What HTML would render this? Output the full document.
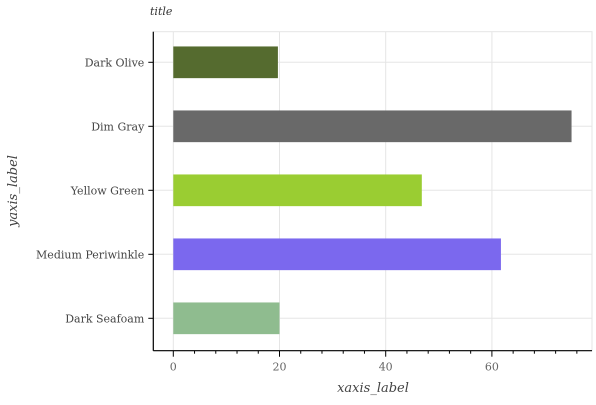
<!DOCTYPE html>
<html><head><meta charset="utf-8"><style>
body{margin:0;background:#fff}
svg text{font-family:"DejaVu Serif","Liberation Serif",serif}
</style></head><body>
<svg id="c" width="596" height="400" xmlns="http://www.w3.org/2000/svg">
<text x="150" y="15" font-size="11" font-style="italic" fill="#333">title</text>
<g id="grid"></g><g id="bars"></g><g id="axes"></g>
<text x="373" y="392" font-size="13" font-style="italic" fill="#444" text-anchor="middle">xaxis_label</text>
<text transform="translate(17,191) rotate(-90)" font-size="13" font-style="italic" fill="#444" text-anchor="middle">yaxis_label</text>
</svg>
<script>
const categories=["Dark Seafoam","Medium Periwinkle","Yellow Green","Dim Gray","Dark Olive"];
const values=[20.0,61.7,46.8,75.0,19.7];
const colors=["#8fbc8f","#7b68ee","#9acd32","#696969","#556b2f"];
const xTicks=[0,20,40,60];
const NS="http://www.w3.org/2000/svg";
const L=153.3,R=592,T=31.7,B=350.7;
const x=v=>173.3+v*5.31;
const y=i=>318.3-i*64;
const bh=31.7;
function mk(t,a,p){const e=document.createElementNS(NS,t);for(const k in a)e.setAttribute(k,a[k]);p.appendChild(e);return e;}
const g=document.getElementById('grid'),b=document.getElementById('bars'),ax=document.getElementById('axes');
mk('rect',{x:L,y:T,width:R-L,height:B-T,fill:'none',stroke:'#e5e5e5'},g);
xTicks.forEach(v=>{const l=mk('line',{x1:x(v),x2:x(v),y1:T,y2:B,stroke:'#e5e5e5'},g);

});
categories.forEach((c,i)=>{const l=mk('line',{x1:L,x2:R,y1:y(i),y2:y(i),stroke:'#e5e5e5'},g);


const r=mk('rect',{x:x(0),y:y(i)-bh/2,width:x(values[i])-x(0),height:bh,fill:colors[i]},b);


mk('line',{x1:L-5,x2:L,y1:y(i),y2:y(i),stroke:'#000'},ax);
const t=mk('text',{x:L-9,y:y(i)+4,'font-size':11,fill:'#444','text-anchor':'end'},ax);t.textContent=c;

});
mk('line',{x1:L,x2:L,y1:T,y2:B,stroke:'#000','stroke-width':1.2},ax);
mk('line',{x1:L,x2:R,y1:B,y2:B,stroke:'#000','stroke-width':1.2},ax);
for(let v=0;v<=76;v+=4){mk('line',{x1:x(v),x2:x(v),y1:B,y2:B+(v%20==0?6:3),stroke:'#000'},ax);}
xTicks.forEach(v=>{const t=mk('text',{x:x(v),y:B+20,'font-size':11,fill:'#666','text-anchor':'middle'},ax);t.textContent=v;

});
</script>
</body></html>
